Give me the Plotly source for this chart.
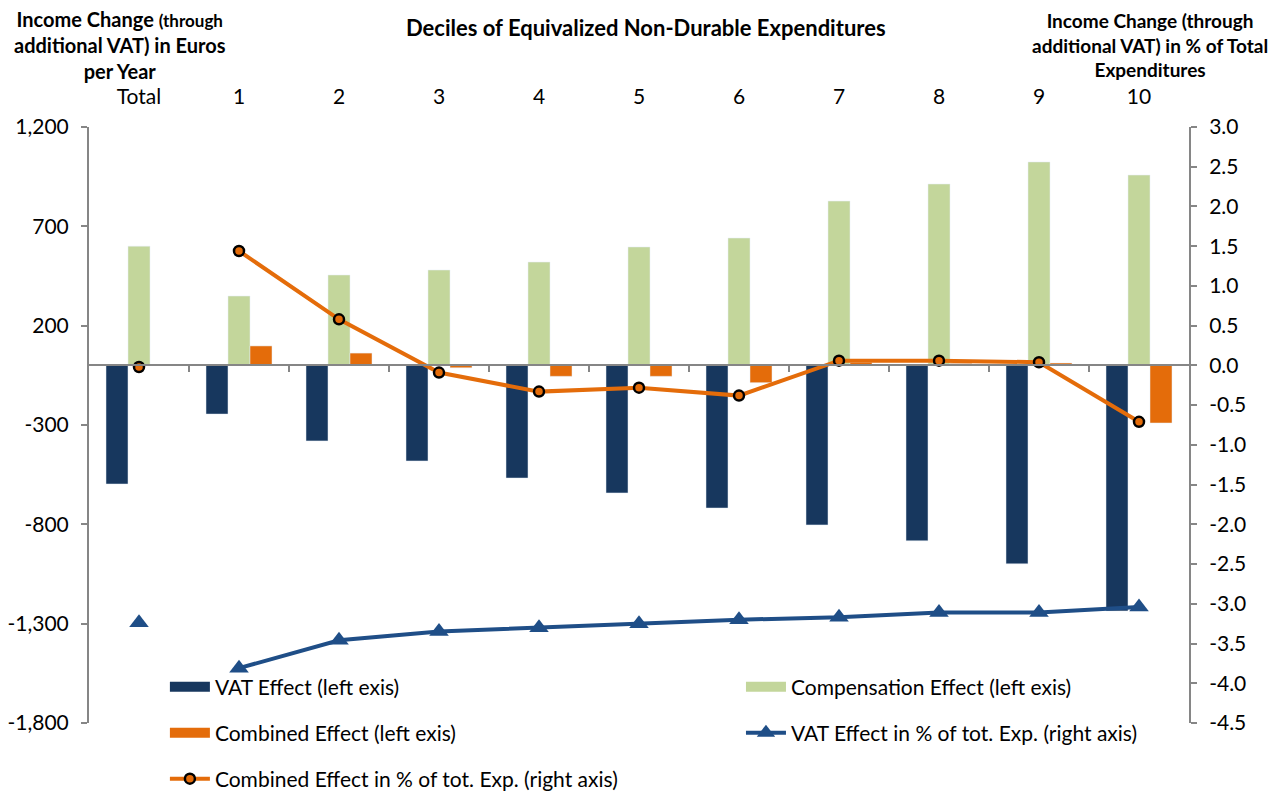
import plotly.graph_objects as go

categories = ["Total", "1", "2", "3", "4", "5", "6", "7", "8", "9", "10"]
vat_effect = [-597, -245, -380, -481, -567, -642, -718, -803, -883, -999, -1236]
compensation_effect = [600, 349, 455, 480, 520, 596, 641, 827, 913, 1024, 958]
combined_effect = [3, 98, 62, -12, -55, -55, -87, 15, 10, 12, -290]
vat_pct = [-3.24, -3.81, -3.46, -3.35, -3.30, -3.25, -3.20, -3.17, -3.11, -3.11, -3.04]
combined_pct = [-0.02, 1.44, 0.58, -0.09, -0.33, -0.28, -0.38, 0.06, 0.06, 0.04, -0.71]

left_ticks = [1200, 700, 200, -300, -800, -1300, -1800]
left_ticktext = ["1,200", "700", "200", "-300", "-800", "-1,300", "-1,800"]
right_ticks = [3.0, 2.5, 2.0, 1.5, 1.0, 0.5, 0.0, -0.5, -1.0, -1.5, -2.0, -2.5, -3.0, -3.5, -4.0, -4.5]
right_ticktext = [f"{v:.1f}" for v in right_ticks]

NAVY = "#17375E"
GREEN = "#C3D69B"
ORANGE = "#E46C0A"
BLUE = "#1F4E87"
GREY = "#868686"
FONT = "Lato"

fig = go.Figure()
fig.add_trace(go.Bar(x=categories, y=vat_effect, name="VAT Effect (left exis)",
                     marker=dict(color=NAVY), showlegend=False))
fig.add_trace(go.Bar(x=categories, y=compensation_effect, name="Compensation Effect (left exis)",
                     marker=dict(color=GREEN), showlegend=False))
fig.add_trace(go.Bar(x=categories, y=combined_effect, name="Combined Effect (left exis)",
                     marker=dict(color=ORANGE), showlegend=False))

# legend-only swatches for the bar series (wide rectangles like the original)
for nm, col, lg in [("VAT Effect (left exis)", NAVY, "legend"),
                    ("Compensation Effect (left exis)", GREEN, "legend2"),
                    ("Combined Effect (left exis)", ORANGE, "legend3")]:
    fig.add_trace(go.Scatter(x=[None], y=[None], mode="lines", name=nm,
                             line=dict(color=col, width=13), legend=lg,
                             hoverinfo="skip"))

# VAT % line (deciles) + separate Total marker
fig.add_trace(go.Scatter(x=categories[1:], y=vat_pct[1:], yaxis="y2", mode="lines+markers",
                         name="VAT Effect in % of tot. Exp. (right axis)",
                         line=dict(color=BLUE, width=4),
                         marker=dict(symbol="triangle-up", size=17, color=BLUE),
                         legend="legend4"))
fig.add_trace(go.Scatter(x=categories[:1], y=vat_pct[:1], yaxis="y2", mode="markers",
                         showlegend=False,
                         marker=dict(symbol="triangle-up", size=17, color=BLUE)))
# Combined % line + Total marker
fig.add_trace(go.Scatter(x=categories[1:], y=combined_pct[1:], yaxis="y2", mode="lines+markers",
                         name="Combined Effect in % of tot. Exp. (right axis)",
                         line=dict(color=ORANGE, width=4),
                         marker=dict(symbol="circle", size=10, color=ORANGE,
                                     line=dict(color="black", width=2.5)),
                         legend="legend5"))
fig.add_trace(go.Scatter(x=categories[:1], y=combined_pct[:1], yaxis="y2", mode="markers",
                         showlegend=False,
                         marker=dict(symbol="circle", size=10, color=ORANGE,
                                     line=dict(color="black", width=2.5))))

# helper axis to draw category boundary ticks along the zero line
fig.add_trace(go.Scatter(x=[0, 10], y=[None, None], xaxis="x2", showlegend=False,
                         hoverinfo="skip"))

legend_common = dict(orientation="h", font=dict(family=FONT, size=21, color="black"),
                     itemwidth=40, bgcolor="rgba(0,0,0,0)", xanchor="left",
                     yanchor="middle", itemclick=False, itemdoubleclick=False)

zero_frac = (0 - (-1800)) / (1200 - (-1800))
col1, col2 = 0.069, 0.5927
row1, row2, row3 = 0.0604, -0.0168, -0.094

fig.update_layout(
    width=1279, height=792,
    margin=dict(l=81, r=98, t=119, b=77, autoexpand=False),
    paper_bgcolor="white", plot_bgcolor="white",
    barmode="group", bargap=0.34, bargroupgap=0,
    font=dict(family=FONT, size=20, color="black"),
    xaxis=dict(type="category", side="top", showline=False, ticks="",
               showgrid=False, zeroline=False, ticklabelstandoff=18,
               tickfont=dict(family=FONT, size=21, color="black"),
               range=[-0.5, 10.5]),
    xaxis2=dict(overlaying="x", anchor="free", position=zero_frac, range=[-0.5, 10.5],
                tickvals=[i + 0.5 for i in range(10)], ticks="outside", ticklen=6,
                tickcolor=GREY, tickwidth=1.5, showticklabels=False, showline=True,
                linecolor=GREY, linewidth=2, showgrid=False, zeroline=False),
    yaxis=dict(range=[-1800, 1200], tickvals=left_ticks, ticktext=left_ticktext,
               ticks="outside", ticklen=6, tickcolor=GREY, tickwidth=1.5,
               showline=True, linecolor=GREY, linewidth=2, showgrid=False,
               zeroline=False, tickfont=dict(family=FONT, size=21, color="black"),
               ticklabelstandoff=8),
    yaxis2=dict(range=[-4.5, 3.0], overlaying="y", side="right", tickvals=right_ticks,
                ticktext=right_ticktext, ticks="outside", ticklen=6, tickcolor=GREY,
                tickwidth=1.5, showline=True, linecolor=GREY, linewidth=2,
                showgrid=False, zeroline=False,
                tickfont=dict(family=FONT, size=21, color="black"),
                ticklabelstandoff=8),
    legend=dict(x=col1, y=row1, **legend_common),
    legend2=dict(x=col2, y=row1, **legend_common),
    legend3=dict(x=col1, y=row2, **legend_common),
    legend4=dict(x=col2, y=row2, **legend_common),
    legend5=dict(x=col1, y=row3, **legend_common),
    showlegend=True,
)

fig.add_annotation(text="<b>Deciles of Equivalized Non-Durable Expenditures</b>",
                   xref="paper", yref="paper", x=0.5068, y=1, yshift=100,
                   showarrow=False, font=dict(family=FONT, size=22, color="black"),
                   xanchor="center", yanchor="middle")
fig.add_annotation(text="<b>Income Change <span style='font-size:17px'>(through</span><br>"
                        "additional VAT) in Euros<br>per Year</b>",
                   xref="paper", yref="paper", x=0.028, y=1, yshift=82,
                   showarrow=False, font=dict(family=FONT, size=20, color="black"),
                   xanchor="center", yanchor="middle", align="center")
fig.add_annotation(text="<b>Income Change (through<br>additional VAT) in % of Total<br>Expenditures</b>",
                   xref="paper", yref="paper", x=0.9645, y=1, yshift=82,
                   showarrow=False, font=dict(family=FONT, size=19, color="black"),
                   xanchor="center", yanchor="middle", align="center")

fig.write_html("out.html")
